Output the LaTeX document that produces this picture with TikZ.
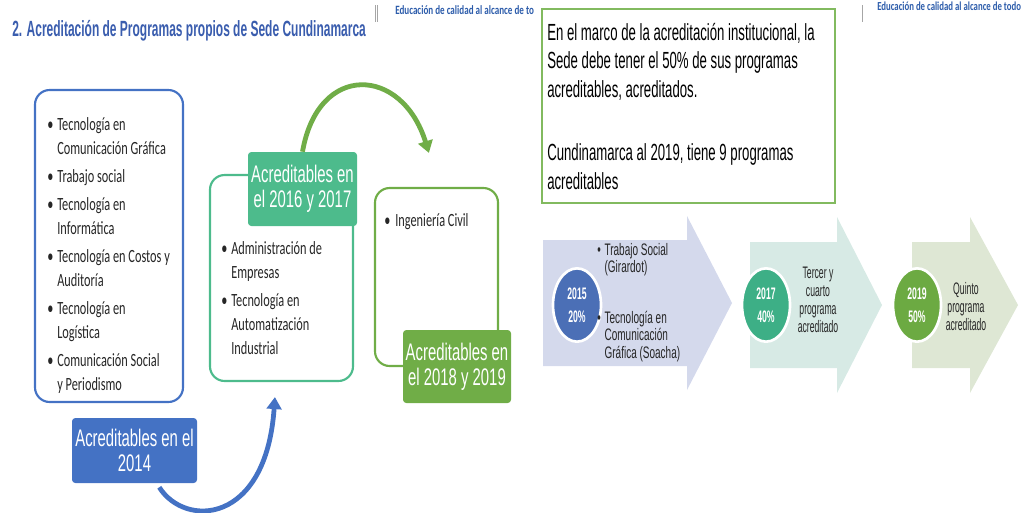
\documentclass[tikz,border=0pt]{standalone}
\usepackage{fontspec}
\usetikzlibrary{fit,calc,shapes.geometric,arrows.meta}
\setmainfont{Liberation Sans}
\newfontfamily\titlefont{Liberation Sans}[FakeStretch=0.545]
\newfontfamily\tagfont{Liberation Sans}[FakeStretch=0.62]
\newfontfamily\notefont{Liberation Sans}[FakeStretch=0.565]
\newfontfamily\stepfont{Liberation Sans}[FakeStretch=0.6]
\newfontfamily\narrowstep{Liberation Sans}[FakeStretch=0.52]
\newfontfamily\listfont{Carlito}[FakeStretch=0.66]
\newfontfamily\mottofont{Carlito}[FakeStretch=0.715]
\newcommand{\bitem}[2][7.5pt]{\par\hangindent=#1\hangafter=1\noindent\makebox[#1][l]{\textbullet}#2\par}

\begin{document}
\begin{tikzpicture}[x=0.75pt,y=-0.75pt,
  panel/.style={draw=#1, line width=1.6pt, rounded corners=11pt, inner sep=0pt},
  tag/.style={fill=#1, rounded corners=2.5pt, inner sep=0pt},
  tagtext/.style={inner sep=0pt, text=white, align=center,
    font=\tagfont\fontsize{18}{19}\selectfont},
  items/.style={anchor=north west, inner sep=0pt, text width=160pt, align=flush left, text=inkGrey,
    font=\listfont\fontsize{14}{18}\selectfont\setlength{\parskip}{3pt}},
  bendarrow/.style={draw=#1, line width=3.6pt, -{Triangle[length=9pt,width=11pt]}},
  yearbadge/.style={ellipse, fill=#1, draw=white, line width=2pt, minimum width=36pt,
    minimum height=55pt, inner sep=0pt, text=white, align=center,
    font=\narrowstep\bfseries\fontsize{12.5}{17}\selectfont},
  steptext/.style={inner sep=0pt, align=center, text=inkGrey, font=\narrowstep\fontsize{12.5}{13.5}\selectfont},
  bullettext/.style={anchor=north west, inner sep=0pt, text width=100pt, align=flush left, text=inkGrey,
    font=\stepfont\fontsize{12.5}{13}\selectfont},
  motto/.style={anchor=base west, inner sep=0pt, text=headBlue, font=\mottofont\bfseries\fontsize{9.5}{10}\selectfont}
]
\definecolor{acBlue}{HTML}{4472C4}
\definecolor{acMint}{HTML}{4DBB8C}
\definecolor{acGreen}{HTML}{70AD47}
\definecolor{titleBlue}{HTML}{3A5DAE}
\definecolor{headBlue}{HTML}{2B5BAA}
\definecolor{noteGreen}{HTML}{82BA5F}
\definecolor{arrLav}{HTML}{D4D9EC}
\definecolor{arrTeal}{HTML}{D7EAE5}
\definecolor{arrOlive}{HTML}{DEE7D4}
\definecolor{dotBlue}{HTML}{4B6FB6}
\definecolor{dotTeal}{HTML}{3DAF86}
\definecolor{dotGreen}{HTML}{6CAA42}
\definecolor{inkGrey}{HTML}{262626}
\useasboundingbox (0,0) rectangle (1023,512);

% headers
\node[anchor=base west, inner sep=0pt, text=titleBlue, font=\titlefont\bfseries\fontsize{16.5}{18}\selectfont]
  (title) at (12,36) {2. Acreditación de Programas propios de Sede Cundinamarca};
\node[motto] (mottoL) at (395,14) {Educación de calidad al alcance de to};
\node[motto, font=\mottofont\bfseries\fontsize{9.2}{10}\selectfont] (mottoR) at (877,10) {Educación de calidad al alcance de todo};
\draw[gray!70, line width=0.6pt] (375,5) -- (375,22) (377.5,5) -- (377.5,22);
\draw[gray!70, line width=0.6pt] (862,5) -- (862,22);

% program boxes
\node[panel=acBlue, fit={(35,90) (183,402)}] (listA) {};
\node[panel=acMint, fit={(210,175) (353,381)}] (listB) {};
\node[panel=acGreen, fit={(375,188) (498,366)}] (listC) {};

\node[items] (itemsA) at (47,102) {%
  \bitem{Tecnología en\newline Comunicación Gráfica}
  \bitem{Trabajo social}
  \bitem{Tecnología en\newline Informática}
  \bitem{Tecnología en Costos y\newline Auditoría}
  \bitem{Tecnología en\newline Logística}
  \bitem{Comunicación Social\newline y Periodismo}};
\node[items] (itemsB) at (221,226) {%
  \bitem{Administración de\newline Empresas}
  \bitem{Tecnología en\newline Automatización\newline Industrial}};
\node[items] (itemsC) at (384,198) {\bitem[8.3pt]{Ingeniería Civil}};

\node[tag=acBlue, fit={(72,418) (197,483)}] (tagA) {};
\node[tag=acMint, fit={(248,152) (357,226)}] (tagB) {};
\node[tag=acGreen, fit={(403,330) (511,403)}] (tagC) {};
\node[tagtext] (tagAtext) at (tagA.center) {Acreditables en el\\2014};
\node[tagtext] (tagBtext) at (tagB.center) {Acreditables en\\el 2016 y 2017};
\node[tagtext] (tagCtext) at (tagC.center) {Acreditables en\\el 2018 y 2019};

\draw[bendarrow=acBlue] ($(tagA.south east)+(-38,4)$) .. controls (185,528) and (266,525) .. ($(listB.south west)+(66,15)$);
\draw[bendarrow=acGreen] (tagB.north) .. controls (318,62) and (402,66) .. ($(listC.north west)+(55,-34)$);

% right panel
\node[draw=noteGreen, line width=1.5pt, inner sep=0pt, fit={(542,9) (835,203)}] (note) {};
\node[anchor=north west, inner sep=0pt, text width=300pt, align=flush left, font=\notefont\fontsize{17.5}{21.4}\selectfont]
  (noteText) at (547,23) {En el marco de la acreditación institucional, la\newline
  Sede debe tener el 50\% de sus programas\newline acreditables, acreditados.\par\vspace{26pt}
  Cundinamarca al 2019, tiene 9 programas\newline acreditables};

\fill[arrLav] (543,240) -- (687,240) -- (687,216) -- (732,303) -- (687,390) -- (687,366) -- (543,366) -- cycle;
\fill[arrTeal] (750,242) -- (837,242) -- (837,217) -- (882,305) -- (837,393) -- (837,368) -- (750,368) -- cycle;
\fill[arrOlive] (912,242) -- (970,242) -- (970,217) -- (1018,305) -- (970,393) -- (970,368) -- (912,368) -- cycle;

\node[yearbadge=dotBlue] (y2015) at (577,305) {2015\\20\%};
\node[yearbadge=dotTeal] (y2017) at (766,305) {2017\\40\%};
\node[yearbadge=dotGreen] (y2019) at (917,305) {2019\\50\%};

\node[bullettext] (girardot) at (597,238) {\bitem[5.5pt]{Trabajo Social\newline (Girardot)}};
\node[bullettext] (soacha) at (597,306) {\bitem[5.5pt]{Tecnología en\newline Comunicación\newline Gráfica (Soacha)}};
\node[steptext] (tercer) at (818,300) {Tercer y\\cuarto\\programa\\acreditado};
\node[steptext] (quinto) at (966,307) {Quinto\\programa\\acreditado};
\end{tikzpicture}
\end{document}
